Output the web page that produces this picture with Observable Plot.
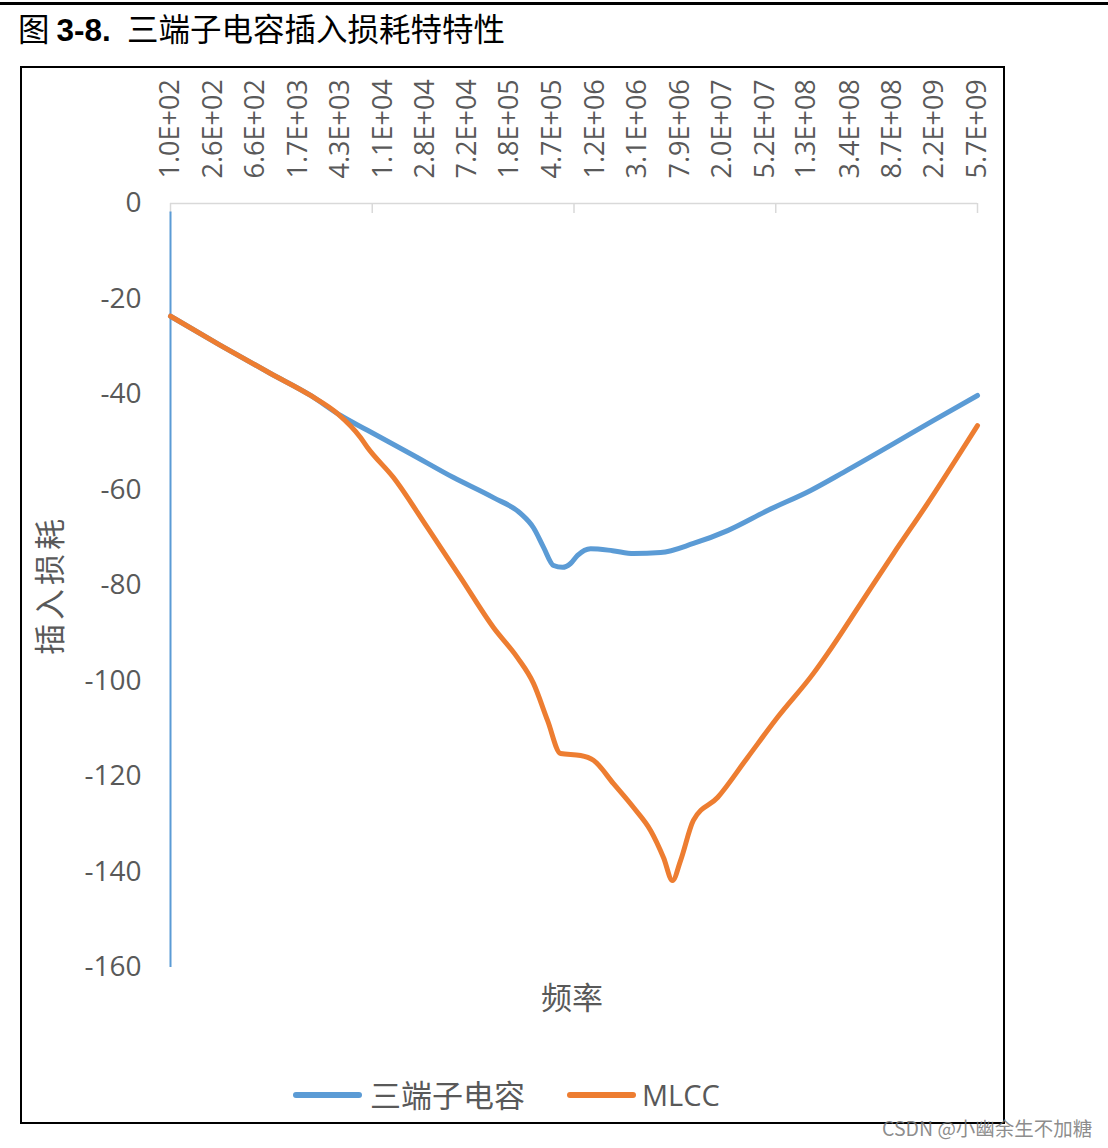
<!DOCTYPE html>
<html>
<head>
<meta charset="utf-8">
<script src="https://cdn.jsdelivr.net/npm/d3@7"></script>
<script src="https://cdn.jsdelivr.net/npm/@observablehq/plot@0.6"></script>
<style>
  html, body { margin: 0; padding: 0; background: #fff; }
  #page { position: relative; width: 1108px; height: 1148px; overflow: hidden; background: #fff; }
  .abs { position: absolute; white-space: nowrap; }
  #topline { left: 0; top: 2px; width: 1108px; height: 2.5px; background: #000; }
  #title { left: 18px; top: 11px; font-size: 31.5px; line-height: 32px; color: #000;
           font-family: "Noto Sans CJK SC", sans-serif; }
  #title b { font-family: "Liberation Sans", Arial, sans-serif; font-weight: bold; }
  #title .rest { margin-left: 9px; }
  #box { left: 20px; top: 66px; width: 981px; height: 1054px; border: 2px solid #000; }
  #chart { left: 21px; top: 68px; }
  .cjk { font-family: "Noto Sans CJK SC", sans-serif; color: #595959; font-size: 31px; line-height: 31px; }
  #xlabel { left: 541px; top: 980px; }
  #ylabel { left: 47px; top: 585px; transform: translate(-50%, -50%) rotate(-90deg); letter-spacing: 4px; }
  .swatch { height: 6px; border-radius: 3px; top: 1092px; width: 69px; }
  #leg1 { left: 293px; background: #5b9bd5; }
  #leg1t { left: 370px; top: 1078px; }
  #leg2 { left: 567px; background: #ed7d31; }
  #leg2t { left: 642px; top: 1079px; font-size: 29px; font-family: "Open Sans", "Noto Sans CJK SC", sans-serif; }
  #wm { left: 882px; top: 1118px; font-size: 19.5px; line-height: 20px; color: rgba(120,120,120,0.85);
        font-family: "Noto Sans CJK SC", sans-serif; }
</style>
</head>
<body>
<div id="page">
  <div id="topline" class="abs"></div>
  <div id="title" class="abs">图 <b>3-8.</b> <span class="rest">三端子电容插入损耗特特性</span></div>
  <div id="box" class="abs"></div>
  <div id="chart" class="abs"></div>
  <div id="ylabel" class="abs cjk">插入损耗</div>
  <div id="xlabel" class="abs cjk">频率</div>
  <div id="leg1" class="abs swatch"></div>
  <div id="leg1t" class="abs cjk">三端子电容</div>
  <div id="leg2" class="abs swatch"></div>
  <div id="leg2t" class="abs cjk">MLCC</div>
  <div id="wm" class="abs">CSDN @小幽余生不加糖</div>
</div>
<script>
// Frequency tick labels (category labels on the top axis)
const freqTickLabels = ["1.0E+02","2.6E+02","6.6E+02","1.7E+03","4.3E+03","1.1E+04","2.8E+04","7.2E+04","1.8E+05","4.7E+05",
  "1.2E+06","3.1E+06","7.9E+06","2.0E+07","5.2E+07","1.3E+08","3.4E+08","8.7E+08","2.2E+09","5.7E+09"];
// Frequencies where the axis tick marks sit
const tickMarkFreqs = [1.0e2, 8.69e3, 7.55e5, 6.56e7, 5.7e9];
// Insertion loss ticks
const yTicks = [0, -20, -40, -60, -80, -100, -120, -140, -160];

// 三端子电容 series
const blueFreq = [100, 302, 915, 2220, 4310, 7820, 20270, 52500, 127000, 231000, 308000, 385000, 480000, 586000, 700000, 817000,
  1.09e6, 1.77e6, 2.82e6, 5.13e6, 1.06e7, 2.26e7, 5.47e7, 1.42e8, 2.94e8, 8.9e8, 2.16e9, 5.7e9];
const blueDb = [-23.6, -29.7, -35.6, -40.2, -44.4, -47.5, -52.4, -57.4, -61.6, -64.9, -67.9, -72.0, -75.8, -76.2, -75.4, -73.7,
  -72.3, -72.7, -73.3, -73.1, -71.2, -68.5, -64.3, -60.1, -56.3, -50.3, -45.4, -40.2];
// Thin vertical blue trace at the first frequency
const blueSpikeFreq = [100];
const blueSpikeTop = [-1.8];
const blueSpikeBottom = [-160];

// MLCC series
const mlccFreq = [100, 302, 915, 2220, 4030, 6700, 7820, 13900, 29500, 61200, 127000, 216000, 308000, 421000, 561000, 873000,
  1.16e6, 1.81e6, 2.82e6, 4.11e6, 5.48e6, 6.68e6, 7.98e6, 1.06e7, 1.81e7, 3.52e7, 6.83e7, 1.51e8, 2.07e8, 4.29e8, 8.9e8,
  1.89e9, 3.92e9, 5.7e9];
const mlccDb = [-23.6, -29.7, -35.6, -40.2, -44.0, -49.0, -51.1, -57.4, -67.9, -78.3, -88.8, -95.1, -100.5, -108.3, -115.2, -115.6,
  -116.6, -121.5, -126.5, -131.3, -137.0, -141.8, -137.6, -129.2, -124.4, -116.0, -107.6, -98.4, -94.2, -83.8, -73.3,
  -62.8, -52.1, -46.5];

const blueData = blueFreq.map((f, i) => ({freq: f, db: blueDb[i]}));
const mlccData = mlccFreq.map((f, i) => ({freq: f, db: mlccDb[i]}));
const spikeData = blueSpikeFreq.map((f, i) => ({freq: f, top: blueSpikeTop[i], bottom: blueSpikeBottom[i]}));
const tickFreqs = freqTickLabels.map(Number);
const labelOf = new Map(tickFreqs.map((v, i) => [v, freqTickLabels[i]]));

const chart = Plot.plot({
  width: 982,
  height: 900,
  marginLeft: 149,
  marginRight: 26,
  marginTop: 135,
  marginBottom: 1,
  x: {type: "log", domain: [100, 5.7e9], axis: null},
  y: {domain: [-160, 0]},
  style: {background: "transparent", overflow: "visible", fontFamily: "'Open Sans', 'Noto Sans CJK SC', sans-serif", color: "#595959"},
  marks: [
    Plot.ruleY([0], {stroke: "#d9d9d9", strokeWidth: 1.5}),
    Plot.ruleX(tickMarkFreqs, {x: d => d, y1: 0, y2: 0, insetBottom: -10, stroke: "#d9d9d9", strokeWidth: 1.5}),
    Plot.text(tickFreqs, {x: d => d, frameAnchor: "top", text: d => labelOf.get(d), rotate: -90,
      textAnchor: "start", lineAnchor: "middle", dy: -25, fontSize: 27, fill: "#595959"}),
    Plot.axisY(yTicks, {anchor: "left", tickSize: 0, tickPadding: 29, fontSize: 28, label: null, fill: "#595959",
      tickFormat: d => String(d)}),
    Plot.ruleX(spikeData, {x: "freq", y1: "top", y2: "bottom", stroke: "#5b9bd5", strokeWidth: 2}),
    Plot.line(blueData, {x: "freq", y: "db", stroke: "#5b9bd5", strokeWidth: 5, curve: "monotone-x", strokeLinecap: "round"}),
    Plot.line(mlccData, {x: "freq", y: "db", stroke: "#ed7d31", strokeWidth: 5, curve: "monotone-x", strokeLinecap: "round"})
  ]
});
document.getElementById("chart").appendChild(chart);
</script>
</body>
</html>
